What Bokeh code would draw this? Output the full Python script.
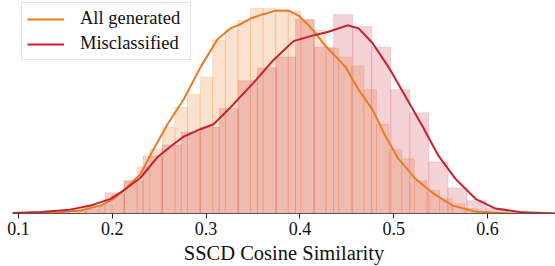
import numpy as np
from bokeh.plotting import figure
from bokeh.models import Range1d, Legend, LegendItem, FixedTicker
from bokeh.embed import file_html
from bokeh.resources import INLINE

# ---- data ----
# "All generated" histogram (density), uniform bins
gen_bin_start = 0.1593
gen_bin_end = 0.6160
gen_hist = [0.05, 0.11, 0.24, 0.50, 0.87, 1.24, 1.71, 2.29, 2.82, 3.16, 3.63, 4.61,
            4.89, 5.13, 5.45, 5.45, 5.42, 5.37, 5.13, 4.87, 4.39, 4.16, 3.92, 3.29,
            2.37, 1.71, 1.45, 0.87, 0.61, 0.39, 0.26, 0.13, 0.05, 0.03]
# "Misclassified" histogram (density), uniform bins
mis_bin_start = 0.1516
mis_bin_end = 0.6390
mis_hist = [0.08, 0.21, 0.55, 0.87, 1.53, 1.82, 2.16, 2.29, 2.79, 3.53, 3.87, 4.16,
            5.16, 4.42, 5.29, 4.97, 4.42, 3.29, 2.68, 1.37, 0.68, 0.34, 0.13, 0.05]
# KDE curves
gen_kde_x = [0.0936, 0.1341, 0.1661, 0.1874, 0.2013, 0.2141, 0.2301, 0.2440, 0.2589, 0.2760,
             0.2941, 0.3122, 0.3261, 0.3367, 0.3474, 0.3602, 0.3740, 0.3879, 0.3986, 0.4092,
             0.4167, 0.4273, 0.4348, 0.4487, 0.4625, 0.4774, 0.4913, 0.5051, 0.5232, 0.5413,
             0.5627, 0.5872, 0.6224, 0.6725]
gen_kde_y = [0.0, 0.01, 0.08, 0.21, 0.39, 0.66, 1.05, 1.71, 2.37, 3.03,
             3.89, 4.63, 4.92, 5.03, 5.18, 5.29, 5.39, 5.39, 5.26, 5.0,
             4.79, 4.45, 4.26, 3.89, 3.29, 2.76, 2.05, 1.45, 0.92, 0.55,
             0.21, 0.05, 0.0, 0.0]
mis_kde_x = [0.0936, 0.1235, 0.1522, 0.1768, 0.1981, 0.2119, 0.2301, 0.2482, 0.2652, 0.2759,
             0.2940, 0.3079, 0.3260, 0.3505, 0.3719, 0.3932, 0.4124, 0.4305, 0.4508, 0.4625,
             0.4774, 0.4945, 0.5126, 0.5307, 0.5478, 0.5659, 0.5872, 0.6085, 0.6373, 0.6725]
mis_kde_y = [0.01, 0.04, 0.09, 0.21, 0.39, 0.61, 0.95, 1.50, 1.84, 2.04,
             2.24, 2.37, 2.82, 3.47, 4.08, 4.58, 4.72, 4.83, 5.0, 4.92,
             4.53, 3.89, 3.11, 2.32, 1.53, 0.92, 0.39, 0.13, 0.03, 0.0]
x_ticks = [0.1, 0.2, 0.3, 0.4, 0.5, 0.6]
tick_labels = ["0.1", "0.2", "0.3", "0.4", "0.5", "0.6"]
series_names = ["All generated", "Misclassified"]
x_label = "SSCD Cosine Similarity"

ORANGE = "#EB7A24"
RED = "#C7202F"
FONT = "Liberation Serif"

p = figure(width=555, height=266, output_backend="svg", toolbar_location=None,
           x_range=Range1d(0.0936, 0.6725), y_range=Range1d(0, 5.66),
           min_border_left=12, min_border_right=0, min_border_top=0, min_border_bottom=51)
p.outline_line_color = None
p.grid.visible = False
p.yaxis.visible = False
p.background_fill_color = "white"
p.border_fill_color = "white"

ge = np.linspace(gen_bin_start, gen_bin_end, len(gen_hist) + 1)
me = np.linspace(mis_bin_start, mis_bin_end, len(mis_hist) + 1)

p.quad(left=ge[:-1], right=ge[1:], top=gen_hist, bottom=0,
       fill_color=ORANGE, fill_alpha=0.22, line_color=ORANGE, line_alpha=0.25, line_width=0.7)
p.quad(left=me[:-1], right=me[1:], top=mis_hist, bottom=0,
       fill_color=RED, fill_alpha=0.2, line_color=RED, line_alpha=0.18, line_width=0.7)

l1 = p.line(gen_kde_x, gen_kde_y, line_color=ORANGE, line_width=2)
l2 = p.line(mis_kde_x, mis_kde_y, line_color=RED, line_width=2)

ax = p.xaxis[0]
ax.ticker = FixedTicker(ticks=x_ticks)
ax.major_label_overrides = {t: s for t, s in zip(x_ticks, tick_labels)}
ax.minor_tick_line_color = None
ax.major_tick_in = 0
ax.major_tick_out = 5
ax.major_tick_line_color = "#222222"
ax.axis_line_color = "#555555"
ax.axis_line_width = 1.2
ax.major_label_text_font = FONT
ax.major_label_text_font_size = "18px"
ax.major_label_text_color = "#111111"
ax.major_label_standoff = 3
ax.axis_label = x_label
ax.axis_label_text_font = FONT
ax.axis_label_text_font_size = "20.5px"
ax.axis_label_text_font_style = "normal"
ax.axis_label_text_color = "#111111"
ax.axis_label_standoff = 4

legend = Legend(items=[LegendItem(label=series_names[0], renderers=[l1]),
                       LegendItem(label=series_names[1], renderers=[l2])],
                location=(9, 153), margin=0, padding=5, spacing=4,
                glyph_width=37, glyph_height=20, label_standoff=16, label_width=105,
                label_text_font=FONT, label_text_font_size="18.5px", label_text_color="#111111",
                border_line_color="#cccccc", border_line_width=1,
                background_fill_color="white", background_fill_alpha=0.85)
p.add_layout(legend, "center")

open("out.html", "w").write(file_html(p, INLINE))
